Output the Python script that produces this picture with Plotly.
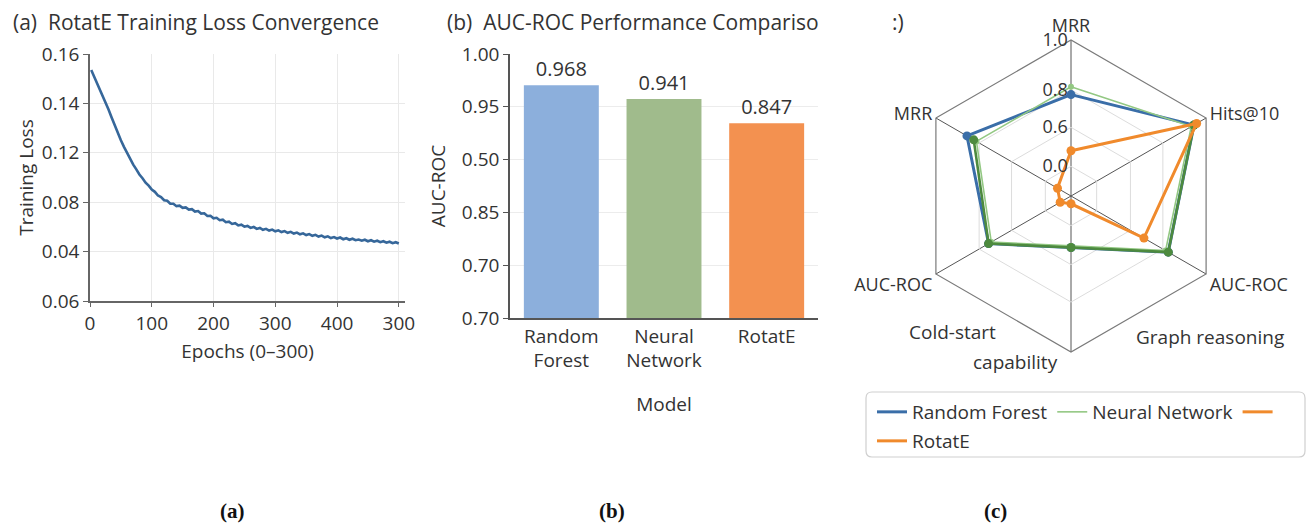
import plotly.graph_objects as go

# The page body adds an 8px margin; the figure is sized and placed so that
# screen coordinates match the reference.
OFF = 8
W, H = 1315 - OFF, 525 - OFF

# ---------------- Panel (a): training loss ----------------
loss_epochs = [2] + list(range(5, 505, 5))
loss_values = [
    0.1535,
    0.1518, 0.1494, 0.1467, 0.1438, 0.1407, 0.1375, 0.1343, 0.1311, 0.1281, 0.1251,
    0.1224, 0.1198, 0.1175, 0.1152, 0.1133, 0.1112, 0.1097, 0.1079, 0.1067, 0.1051,
    0.1042, 0.1027, 0.1021, 0.1008, 0.1006, 0.0994, 0.0994, 0.0984, 0.0986, 0.0977,
    0.0979, 0.0970, 0.0972, 0.0962, 0.0964, 0.0954, 0.0955, 0.0944, 0.0945, 0.0935,
    0.0937, 0.0927, 0.0929, 0.0919, 0.0921, 0.0912, 0.0915, 0.0906, 0.0909, 0.0901,
    0.0904, 0.0896, 0.0900, 0.0892, 0.0896, 0.0888, 0.0892, 0.0885, 0.0889, 0.0882,
    0.0886, 0.0879, 0.0883, 0.0876, 0.0880, 0.0873, 0.0877, 0.0870, 0.0874, 0.0867,
    0.0871, 0.0864, 0.0868, 0.0861, 0.0865, 0.0858, 0.0862, 0.0855, 0.0859, 0.0853,
    0.0857, 0.0850, 0.0854, 0.0848, 0.0852, 0.0846, 0.0849, 0.0844, 0.0848, 0.0842,
    0.0846, 0.0840, 0.0844, 0.0838, 0.0842, 0.0836, 0.0840, 0.0834, 0.0838, 0.0833,
]
loss_xtick_vals = [0, 100, 200, 300, 400, 500]
loss_xtick_text = ["0", "100", "200", "300", "400", "300"]
loss_ytick_vals = [0.16, 0.14, 0.12, 0.10, 0.08, 0.06]
loss_ytick_text = ["0.16", "0.14", "0.12", "0.08", "0.04", "0.06"]

# ---------------- Panel (b): AUC-ROC bars ----------------
models = ["Random<br>Forest", "Neural<br>Network", "RotatE"]
bar_heights = [0.9705, 0.9575, 0.9345]
auc_labels = ["0.968", "0.941", "0.847"]
bar_colors = ["#8cafdc", "#a0bb8c", "#f39150"]
auc_ytick_vals = [0.75, 0.80, 0.85, 0.90, 0.95, 1.00]
auc_ytick_text = ["0.70", "0.70", "0.85", "0.50", "0.95", "1.00"]

# ---------------- Panel (c): radar ----------------
radar_axes = ["MRR_top", "Hits@10", "AUC-ROC_right", "Bottom", "AUC-ROC_left", "MRR_left"]
radar_labels = ["MRR", "Hits@10", "AUC-ROC", "", "AUC-ROC", "MRR"]
rf_scores = [0.65, 0.91, 0.72, 0.33, 0.61, 0.77]
nn_scores = [0.70, 0.89, 0.70, 0.32, 0.59, 0.70]
nn_dark_scores = [None, 0.91, 0.72, 0.33, 0.61, 0.72]
rotate_scores = [0.29, 0.93, 0.54, 0.05, 0.08, 0.10]
radial_tick_vals = [0.19, 0.44, 0.68, 1.0]
radial_tick_text = ["0.0", "0.6", "0.8", "1.0"]

FONT = "Open Sans"
TXT = "#333333"

fig = go.Figure()

def px_x(p):
    return (p - OFF) / W

def px_y(p):
    return 1 - (p - OFF) / H

# (a)
fig.add_trace(go.Scatter(
    x=loss_epochs, y=loss_values, mode="lines",
    line=dict(color="#36679a", width=2.6),
    xaxis="x", yaxis="y", showlegend=False,
))

# (b)
fig.add_trace(go.Bar(
    x=models, y=bar_heights, marker=dict(color=bar_colors, line=dict(width=0)),
    text=auc_labels, textposition="outside", cliponaxis=False,
    textfont=dict(size=20, color=TXT, family=FONT),
    xaxis="x2", yaxis="y2", showlegend=False,
))

# (c)
def closed(vals):
    return vals + [vals[0]]

theta_closed = closed(radar_axes)

series = [
    ("Random Forest", rf_scores, "#3a6ea8", 3.0, 9),
    ("Neural Network", nn_scores, "#93c883", 1.6, 6),
]
for name, vals, col, lw, ms in series:
    fig.add_trace(go.Scatterpolar(
        r=closed(vals), theta=theta_closed, name=name, mode="lines",
        line=dict(color=col, width=lw), legend="legend",
    ))
    fig.add_trace(go.Scatterpolar(
        r=vals, theta=radar_axes, name=name, mode="markers",
        marker=dict(size=ms, color=col), showlegend=False,
    ))
fig.add_trace(go.Scatterpolar(
    r=nn_dark_scores, theta=radar_axes, name="Neural Network (detail)",
    mode="lines+markers", line=dict(color="#4d8a3e", width=2.6),
    marker=dict(size=9, color="#4d8a3e"), showlegend=False, connectgaps=False,
))
fig.add_trace(go.Scatterpolar(
    r=[None], theta=[radar_axes[0]], name=" ",
    mode="lines", line=dict(color="#f08a2c", width=3), legend="legend",
))
fig.add_trace(go.Scatterpolar(
    r=closed(rotate_scores), theta=theta_closed, name="RotatE",
    mode="lines", line=dict(color="#f08a2c", width=3), legend="legend2",
))
fig.add_trace(go.Scatterpolar(
    r=rotate_scores, theta=radar_axes, name="RotatE", mode="markers",
    marker=dict(size=9, color="#f08a2c"), showlegend=False,
))

axis_font = dict(family=FONT, size=19, color=TXT)
title_font = dict(family=FONT, size=19, color=TXT)

# polar geometry (screen pixels)
cx, cy, R = 1071, 196, 156

TITLE_Y = 22
annotations = [
    dict(text="(a)  RotatE Training Loss Convergence", x=px_x(11), y=px_y(TITLE_Y),
         xref="paper", yref="paper", xanchor="left", yanchor="middle",
         showarrow=False, font=dict(family=FONT, size=21, color=TXT)),
    dict(text="(b)  AUC-ROC Performance Compariso", x=px_x(445), y=px_y(TITLE_Y),
         xref="paper", yref="paper", xanchor="left", yanchor="middle",
         showarrow=False, font=dict(family=FONT, size=21, color=TXT)),
    dict(text=":)", x=px_x(890), y=px_y(TITLE_Y),
         xref="paper", yref="paper", xanchor="left", yanchor="middle",
         showarrow=False, font=dict(family=FONT, size=21, color=TXT)),
    dict(text="Graph reasoning", x=px_x(1210), y=px_y(337),
         xref="paper", yref="paper", xanchor="center", yanchor="middle",
         showarrow=False, font=title_font),
    dict(text="Cold-start", x=px_x(952), y=px_y(332),
         xref="paper", yref="paper", xanchor="center", yanchor="middle",
         showarrow=False, font=title_font),
    dict(text="capability", x=px_x(1015), y=px_y(362),
         xref="paper", yref="paper", xanchor="center", yanchor="middle",
         showarrow=False, font=title_font),
]
for lab, xc in [("(a)", 232), ("(b)", 612), ("(c)", 995)]:
    annotations.append(dict(
        text="<b>%s</b>" % lab, x=px_x(xc), y=px_y(511), xref="paper", yref="paper",
        xanchor="center", yanchor="middle", showarrow=False,
        font=dict(family="Liberation Serif", size=21, color="#111111")))

# rounded legend box
bx0, bx1, by0, by1, rad = 866, 1305, 392, 457, 6
def P(x, y):
    return "%.5f,%.5f" % (px_x(x), px_y(y))
legend_path = ("M " + P(bx0 + rad, by0) + " L " + P(bx1 - rad, by0) +
               " Q " + P(bx1, by0) + " " + P(bx1, by0 + rad) +
               " L " + P(bx1, by1 - rad) + " Q " + P(bx1, by1) + " " + P(bx1 - rad, by1) +
               " L " + P(bx0 + rad, by1) + " Q " + P(bx0, by1) + " " + P(bx0, by1 - rad) +
               " L " + P(bx0, by0 + rad) + " Q " + P(bx0, by0) + " " + P(bx0 + rad, by0) + " Z")

fig.update_layout(
    width=W, height=H,
    margin=dict(l=0, r=0, t=0, b=0, autoexpand=False),
    paper_bgcolor="white", plot_bgcolor="white",
    font=dict(family=FONT, color=TXT),
    xaxis=dict(
        domain=[px_x(90), px_x(405)], range=[0, 510],
        tickmode="array", tickvals=loss_xtick_vals, ticktext=loss_xtick_text,
        showline=True, linecolor="#666666", linewidth=1.5, ticks="outside",
        ticklen=4, tickcolor="#666666", showgrid=True, gridcolor="#e9e9e9",
        zeroline=False, tickfont=axis_font,
        title=dict(text="Epochs (0–300)", font=title_font, standoff=10),
        anchor="y",
    ),
    yaxis=dict(
        domain=[px_y(301), px_y(54)], range=[0.06, 0.16],
        tickmode="array", tickvals=loss_ytick_vals, ticktext=loss_ytick_text,
        showline=True, linecolor="#666666", linewidth=1.5, ticks="outside",
        ticklen=5, tickcolor="#666666", showgrid=True, gridcolor="#e9e9e9",
        zeroline=False, tickfont=axis_font,
        title=dict(text="Training Loss", font=title_font, standoff=3),
        anchor="x",
    ),
    xaxis2=dict(
        domain=[px_x(510), px_x(818)],
        showline=True, linecolor="#555555", linewidth=1.5, ticks="",
        showgrid=False, tickfont=axis_font,
        title=dict(text="Model", font=title_font, standoff=25),
        anchor="y2",
    ),
    yaxis2=dict(
        domain=[px_y(318), px_y(54)], range=[0.75, 1.0],
        tickmode="array", tickvals=auc_ytick_vals, ticktext=auc_ytick_text,
        showline=True, linecolor="#555555", linewidth=1.5, ticks="outside",
        ticklen=5, tickcolor="#555555", showgrid=True, gridcolor="#ececec",
        zeroline=False, tickfont=axis_font,
        title=dict(text="AUC-ROC", font=title_font, standoff=11),
        anchor="x2",
    ),
    bargap=0.27,
    polar=dict(
        domain=dict(x=[px_x(cx - R), px_x(cx + R)], y=[px_y(cy + R), px_y(cy - R)]),
        gridshape="linear", bgcolor="white",
        angularaxis=dict(
            type="category", categoryarray=radar_axes, direction="clockwise", rotation=90,
            tickmode="array", tickvals=radar_axes, ticktext=radar_labels,
            showline=True, linecolor="#7a7a7a", linewidth=1.2,
            showgrid=True, gridcolor="#555555", gridwidth=1, ticks="",
            tickfont=dict(family=FONT, size=18, color=TXT),
        ),
        radialaxis=dict(
            range=[0, 1], angle=90, tickangle=90, side="counterclockwise",
            tickmode="array", tickvals=radial_tick_vals, ticktext=radial_tick_text,
            showline=False, showgrid=True, gridcolor="#dcdcdc", ticks="",
            tickfont=dict(family=FONT, size=18, color=TXT),
        ),
    ),
    legend=dict(
        orientation="h", x=px_x(872), y=px_y(393), xanchor="left", yanchor="top",
        bgcolor="rgba(0,0,0,0)", borderwidth=0,
        font=dict(family=FONT, size=19, color=TXT), itemwidth=30,
    ),
    legend2=dict(
        orientation="h", x=px_x(872), y=px_y(422), xanchor="left", yanchor="top",
        bgcolor="rgba(0,0,0,0)", borderwidth=0,
        font=dict(family=FONT, size=19, color=TXT), itemwidth=30,
    ),
    shapes=[dict(type="path", path=legend_path, xref="paper", yref="paper",
                 line=dict(color="#cfcfcf", width=1.2), fillcolor="rgba(0,0,0,0)")],
    annotations=annotations,
)

fig.write_html("out.html")
